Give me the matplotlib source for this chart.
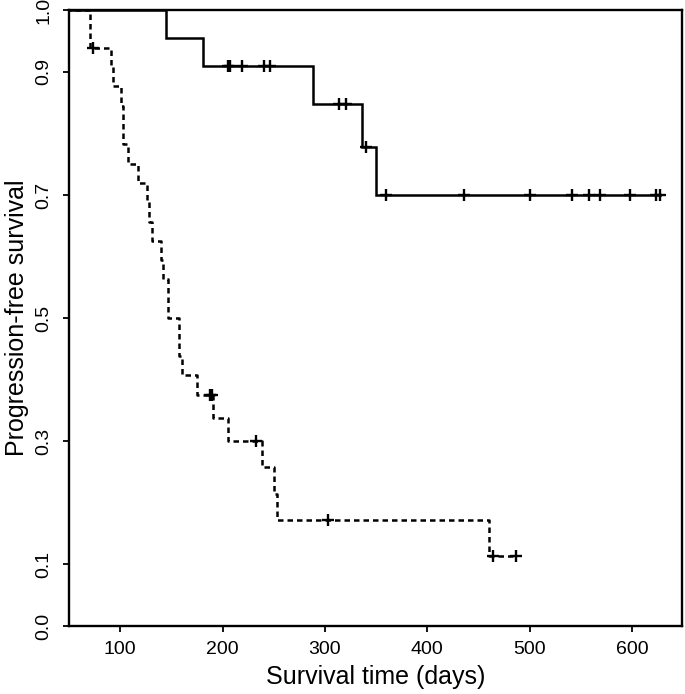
import matplotlib
matplotlib.use("Agg")
import matplotlib.pyplot as plt
import numpy as np

plt.rcParams['font.family'] = ['Liberation Sans', 'DejaVu Sans']

# Group A (solid line): step times and survival after each step
a_times = [0, 145, 181, 288, 336, 350]
a_surv = [1.0, 0.955, 0.909, 0.848, 0.778, 0.700]
a_end = 627
a_cens = [205, 207, 219, 240, 246, 314, 321, 340, 360, 436, 500, 541, 558, 569, 598, 623, 627]

# Group B (dashed line)
b_times = [0, 70, 91, 93, 101, 103, 108, 117, 126, 128, 131, 140, 142, 147,
           157, 160, 175, 191, 205, 238, 250, 253, 460]
b_surv = [1.0, 0.939, 0.908, 0.877, 0.845, 0.783, 0.751, 0.720, 0.689, 0.657,
          0.626, 0.595, 0.564, 0.501, 0.438, 0.407, 0.376, 0.338, 0.301, 0.258,
          0.215, 0.172, 0.114]
b_end = 487
b_cens = [73, 188, 190, 233, 303, 464, 487]

x_ticks = [100, 200, 300, 400, 500, 600]
y_ticks = [0.0, 0.1, 0.3, 0.5, 0.7, 0.9, 1.0]
y_ticklabels = ["0.0", "0.1", "0.3", "0.5", "0.7", "0.9", "1.0"]


def level_at(times, surv, t):
    idx = np.searchsorted(times, t, side='right') - 1
    return np.asarray(surv)[idx]


fig = plt.figure(figsize=(6.85, 6.94), dpi=100)
ax = fig.add_axes([0.1012, 0.098, 0.8945, 0.887])

lw = 1.8
ax.step(a_times + [a_end], a_surv + [a_surv[-1]], where='post',
        color='black', lw=lw, solid_joinstyle='miter')
ax.step(b_times + [b_end], b_surv + [b_surv[-1]], where='post',
        color='black', lw=lw, linestyle=(0, (2.2, 1.6)))

ax.plot(a_cens, level_at(a_times, a_surv, a_cens), linestyle='none',
        marker='+', color='black', ms=8.5, mew=1.7)
ax.plot(b_cens, level_at(b_times, b_surv, b_cens), linestyle='none',
        marker='+', color='black', ms=8.5, mew=1.7)

ax.set_xlim(50.2, 648.9)
ax.set_ylim(0, 1)
ax.set_xticks(x_ticks)
ax.set_xticklabels([str(v) for v in x_ticks], fontsize=14)
ax.set_yticks(y_ticks)
ax.set_yticklabels(y_ticklabels, fontsize=14, rotation=90, va='center')
ax.tick_params(direction='out', length=4, width=1.3, color='black')
ax.tick_params(axis='x', pad=6.5)
ax.tick_params(axis='y', pad=8)
for s in ax.spines.values():
    s.set_linewidth(1.7)
    s.set_color('black')

ax.set_xlabel("Survival time (days)", fontsize=18, labelpad=5)
ax.set_ylabel("Progression-free survival", fontsize=18, labelpad=5)

fig.savefig("out.png", dpi=100)
